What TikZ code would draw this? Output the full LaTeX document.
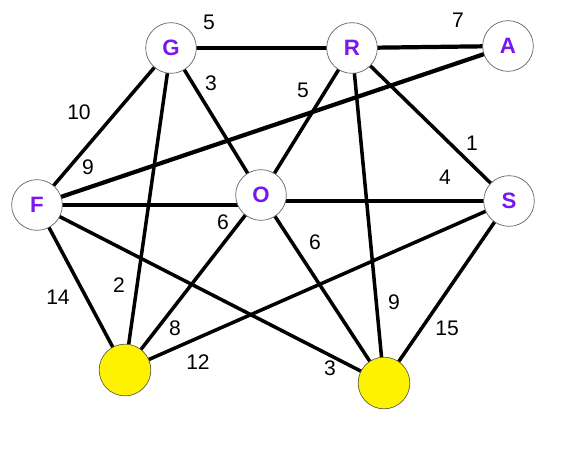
\documentclass[tikz,border=0pt]{standalone}
\usepackage{fontspec}
\setmainfont{Liberation Sans}
\usepackage{tikz}
\usetikzlibrary{positioning,backgrounds}

\definecolor{lettercol}{RGB}{122,22,240}

\begin{document}
\begin{tikzpicture}[
    x=0.03cm, y=-0.03cm,
    city/.style={circle, draw=gray!80!black, line width=0.6pt, fill=white, minimum size=1.52cm, inner sep=0pt,
                 font=\fontsize{19}{20}\selectfont\bfseries, text=lettercol},
    goal/.style={circle, draw=black!70!yellow, line width=0.6pt, fill=yellow, minimum size=1.55cm, inner sep=0pt},
    edge/.style={line width=3pt},
    heavy/.style={line width=3.6pt},
    wt/.style={font=\fontsize{18}{20}\selectfont, inner sep=1pt}
  ]
  \useasboundingbox (0,0) rectangle (564,453);

  % cities
  \node[city] (G) at (171,48) {G};
  \node[city] (R) at (352,48) {R};
  \node[city] (A) at (508,46) {A};
  \node[city] (F) at (37,205) {F};
  \node[city] (O) at (261,195) {O};
  \node[city] (S) at (509,201) {S};
  \node[goal] (Y1) at (125,370) {};
  \node[goal] (Y2) at (384,383) {};

  % roads, drawn behind the circles
  \begin{scope}[on background layer]
  \draw[heavy] (G.center) -- (R.center);
  \draw[heavy] (R.center) -- (A.center);
  \draw[edge]  (G.center) -- (F.center);
  \draw[edge]  (G.center) -- (O.center);
  \draw[edge]  (G.center) -- (Y1.center);
  \draw[edge]  (R.center) -- (O.center);
  \draw[edge]  (R.center) -- (S.center);
  \draw[edge]  (R.center) -- (Y2.center);
  \draw[heavy] (A.center) -- (F.center);
  \draw[edge]  (F.center) -- (O.center |- F.center);
  \draw[edge]  (F.center) -- (Y1.center);
  \draw[edge]  (F.center) -- (Y2.center);
  \draw[heavy] (O.center) -- (S.center -| O.center) -- (S.center);
  \draw[edge]  (O.center) -- (Y1.center);
  \draw[edge]  (O.center) -- (Y2.center);
  \draw[edge]  (S.center) -- (Y1.center);
  \draw[edge]  (S.center) -- (Y2.center);
  \end{scope}

  % weights
  \node[wt] (wGR) at (209,22) {5};
  \node[wt] (wRA) at (458,20) {7};
  \node[wt] (wGF) at (79,112) {10};
  \node[wt] (wGO) at (211,83) {3};
  \node[wt] (wRO) at (303,90) {5};
  \node[wt] (wRS) at (472,143) {1};
  \node[wt] (wOS) at (445,177) {4};
  \node[wt] (wAF) at (88,167) {9};
  \node[wt] (wFO) at (223,222) {6};
  \node[wt] (wFY) at (58,297) {14};
  \node[wt] (wGY) at (119,285) {2};
  \node[wt] (wOY) at (175,328) {8};
  \node[wt] (wSY) at (198,362) {12};
  \node[wt] (wFZ) at (330,368) {3};
  \node[wt] (wRZ) at (394,302) {9};
  \node[wt] (wSZ) at (447,328) {15};
  \node[wt] (wOZ) at (315,242) {6};
\end{tikzpicture}
\end{document}
